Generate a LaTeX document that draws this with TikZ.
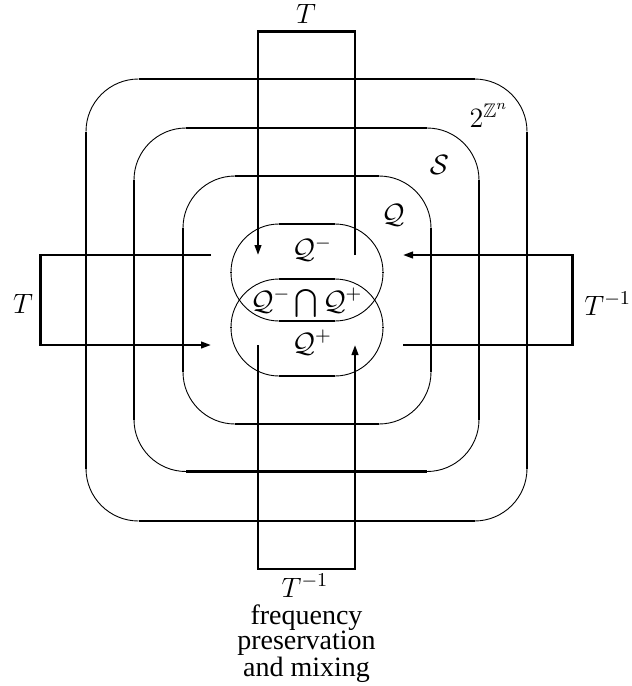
\documentclass[tikz,border=0pt]{standalone}
\usepackage{fix-cm}
\usepackage{amsmath,amssymb}
\usepackage[no-math]{fontspec}
\setmainfont{Liberation Serif}
\usetikzlibrary{arrows.meta}
% L T R B r  (pixel units)
\newcommand\myroundbox[5]{%
  \draw[thickline] ({#1+#5},#2) -- ({#3-#5},#2);
  \draw[thickline] ({#1+#5},#4) -- ({#3-#5},#4);
  \draw[thickline] (#1,{#2+#5}) -- (#1,{#4-#5});
  \draw[thickline] (#3,{#2+#5}) -- (#3,{#4-#5});
  \draw[thinline] ({#1+#5},#2) arc[start angle=90,end angle=180,radius={#5*0.5pt}];
  \draw[thinline] (#3,{#2+#5}) arc[start angle=0,end angle=90,radius={#5*0.5pt}];
  \draw[thinline] (#1,{#4-#5}) arc[start angle=180,end angle=270,radius={#5*0.5pt}];
  \draw[thinline] ({#3-#5},#4) arc[start angle=270,end angle=360,radius={#5*0.5pt}];
}
\begin{document}
\begin{tikzpicture}[x=0.5pt,y=-0.5pt,
  thickline/.style={line width=1.1pt},
  thinline/.style={line width=0.45pt},
  lbl/.style={inner sep=0pt,font=\fontsize{14}{12.5}\selectfont},
  arr/.style={-{Triangle[length=5pt,width=3.3pt]}}]
\useasboundingbox (0,0) rectangle (632,686);
% nested sets
\myroundbox{86}{79}{527}{521}{52.5}
\myroundbox{134}{128}{479}{471.5}{52}
\myroundbox{183}{176}{431}{424}{52}
% Q- and Q+
\myroundbox{231}{224}{383}{321}{48}
\myroundbox{231}{279}{383}{376}{48}
% vertical T box
\coordinate (vt1) at (258,31.5);
\coordinate (vt2) at (355,31.5);
\coordinate (vt1e) at (258,255);
\coordinate (vt2e) at (355,255);
\coordinate (vb1) at (258,569);
\coordinate (vb2) at (355,569);
\coordinate (vb1e) at (258,345);
\coordinate (vb2e) at (355,345);
\draw[thickline,arr] (vt2e) -- (vt2) -- (vt1) -- (vt1e);
\draw[thickline,arr] (vb1e) -- (vb1) -- (vb2) -- (vb2e);
% horizontal boxes
\coordinate (hl1) at (40.5,255);
\coordinate (hl2) at (40.5,345);
\coordinate (hl1e) at (211,255);
\coordinate (hl2e) at (211,345);
\coordinate (hr1) at (572.5,255);
\coordinate (hr2) at (572.5,345);
\coordinate (hr1e) at (403,255);
\coordinate (hr2e) at (403,345);
\draw[thickline,arr] (hl1e) -- (hl1) -- (hl2) -- (hl2e);
\draw[thickline,arr] (hr2e) -- (hr2) -- (hr1) -- (hr1e);
% labels
\node[lbl,anchor=base] (tTop) at (306,23) {$T$};
\node[lbl,anchor=base] (tLeft) at (23,313) {$T$};
\node[lbl,anchor=base west] (tRight) at (584,315) {$T^{-1}$};
\node[lbl,anchor=base] (tBot) at (305,597) {$T^{-1}$};
\node[lbl,align=center] (txt) at (306.5,643.5) {frequency\\preservation\\and mixing};
\node[lbl,anchor=base] (zn) at (489,127.7) {$2^{\mathbb{Z}^n}$};
\node[lbl,anchor=base] (s) at (439.5,174) {$\mathcal{S}$};
\node[lbl,anchor=base] (q) at (393,223.5) {$\mathcal{Q}$};
\node[lbl,anchor=base] (qm) at (312,258.5) {$\mathcal{Q}^-$};
\node[lbl,anchor=base] (qi) at (306.5,310) {$\mathcal{Q}^-\bigcap\mathcal{Q}^+$};
\node[lbl,anchor=base] (qp) at (312,352) {$\mathcal{Q}^+$};
\end{tikzpicture}
\end{document}
